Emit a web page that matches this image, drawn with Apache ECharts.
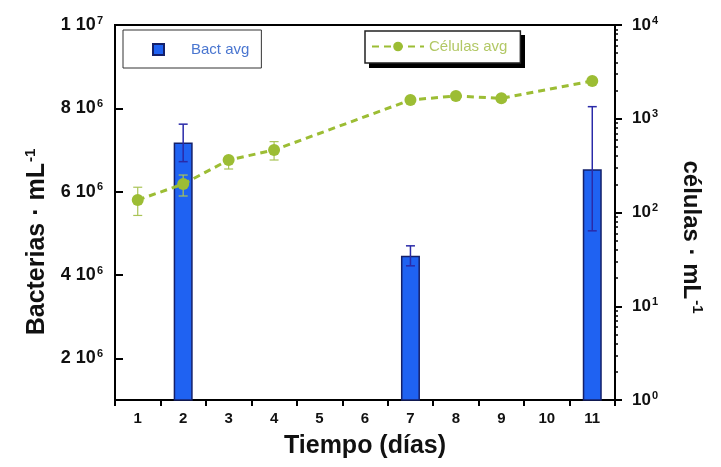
<!DOCTYPE html>
<html>
<head>
<meta charset="utf-8">
<script src="https://cdn.jsdelivr.net/npm/echarts@6/dist/echarts.min.js"></script>
<style>html,body{margin:0;padding:0;background:#fff}#c{width:721px;height:467px}</style>
</head>
<body>
<div id="c"></div>
<script>
const days = ['1','2','3','4','5','6','7','8','9','10','11'];
const bactAvg = [null, 7.18e6, null, null, null, null, 4.46e6, null, null, null, 6.54e6];
const bactLow = [null, 6.72e6, null, null, null, null, 4.22e6, null, null, null, 5.06e6];
const bactHigh = [null, 7.62e6, null, null, null, null, 4.70e6, null, null, null, 8.04e6];
const cellAvg = [136, 201, 363, 464, null, null, 1585, 1750, 1652, null, 2528];
const cellLow = [93, 150, 291, 363, null, null, null, null, null, null, null];
const cellHigh = [186, 251, 394, 570, null, null, null, null, null, null, null];
const leftTicks = [2e6, 4e6, 6e6, 8e6, 1e7];
const rightMinor = [2,3,4,5,6,7,8,9,20,30,40,50,60,70,80,90,200,300,400,500,600,700,800,900,2000,3000,4000,5000,6000,7000,8000,9000];

const FONT = '"Liberation Sans", Arial, sans-serif';
const BAR = '#1f62f2', BAR_BORDER = '#14206a', ERR_BLUE = '#2a2aa8';
const GREEN = '#9cbd34', GREEN_ERR = '#a9c456';

function errData(low, high) {
  const out = [];
  low.forEach((v, i) => { if (v != null && high[i] != null) out.push([i, v, high[i]]); });
  return out;
}
function errRender(color, cap, lw) {
  return function (params, api) {
    const x = api.value(0);
    const p1 = api.coord([x, api.value(1)]);
    const p2 = api.coord([x, api.value(2)]);
    const st = { stroke: color, lineWidth: lw };
    return {
      type: 'group',
      children: [
        { type: 'line', shape: { x1: p1[0], y1: p1[1], x2: p2[0], y2: p2[1] }, style: st },
        { type: 'line', shape: { x1: p1[0] - cap, y1: p1[1], x2: p1[0] + cap, y2: p1[1] }, style: st },
        { type: 'line', shape: { x1: p2[0] - cap, y1: p2[1], x2: p2[0] + cap, y2: p2[1] }, style: st }
      ]
    };
  };
}
const supRich = { sup: { fontSize: 11, fontWeight: 'bold', fontFamily: FONT, color: '#111', verticalAlign: 'top', padding: [0,0,9,1] } };

const chart = echarts.init(document.getElementById('c'), null, { renderer: 'canvas' });
chart.setOption({
  backgroundColor: '#fff',
  animation: false,
  grid: { left: 115, right: 106, top: 25, bottom: 67, show: true, borderColor: '#000', borderWidth: 2, backgroundColor: 'transparent' },
  legend: [
    {
      data: [{ name: 'Bact avg', icon: 'rect', textStyle: { color: '#4a76d0' } }],
      left: 123, top: 30, orient: 'horizontal', z: 6,
      padding: [12, 12, 11, 29], itemWidth: 11, itemHeight: 11,
      borderColor: '#333', borderWidth: 1, backgroundColor: '#fff',
      textStyle: { fontFamily: FONT, fontSize: 15, padding: [0, 0, 0, 22] }
    },
    {
      data: [{ name: 'Células avg', textStyle: { color: '#b2c865' } }],
      left: 365, top: 31, orient: 'horizontal', z: 6,
      padding: [8, 13, 9, 6], itemWidth: 52, itemHeight: 12,
      borderColor: '#222', borderWidth: 1.5, backgroundColor: '#fff',
      textStyle: { fontFamily: FONT, fontSize: 15 }
    }
  ],
  xAxis: {
    type: 'category', data: days, boundaryGap: true,
    name: 'Tiempo (días)', nameLocation: 'middle', nameGap: 34,
    nameTextStyle: { fontFamily: FONT, fontSize: 25, fontWeight: 'bold', color: '#111' },
    axisLine: { lineStyle: { color: '#000', width: 2 } },
    axisTick: { show: true, length: 6, lineStyle: { color: '#000', width: 2 } },
    axisLabel: { fontFamily: FONT, fontSize: 15, fontWeight: 'bold', color: '#111', margin: 11, interval: 0 },
    splitLine: { show: false }
  },
  yAxis: [
    {
      type: 'value', position: 'left', min: 1e6, max: 1e7,
      axisLine: { show: true, lineStyle: { color: '#000', width: 2 } },
      axisTick: { show: true, inside: true, length: 8, lineStyle: { color: '#000', width: 2 }, customValues: leftTicks },
      axisLabel: {
        customValues: leftTicks, margin: 12, fontFamily: FONT, fontSize: 18, fontWeight: 'bold', color: '#111',
        formatter: function (v) {
          const e = Math.floor(Math.log10(v) + 1e-9);
          const m = Math.round(v / Math.pow(10, e));
          return m + ' 10{sup|' + e + '}';
        },
        rich: supRich
      },
      splitLine: { show: false }
    },
    {
      type: 'log', logBase: 10, position: 'right', min: 1, max: 10000,
      axisLine: { show: true, lineStyle: { color: '#000', width: 2 } },
      axisTick: { show: true, inside: false, length: 7, lineStyle: { color: '#000', width: 2 } },
      axisLabel: {
        margin: 17, fontFamily: FONT, fontSize: 17, fontWeight: 'bold', color: '#111',
        formatter: function (v) { return '10{sup|' + Math.round(Math.log10(v)) + '}'; },
        rich: supRich
      },
      splitLine: { show: false }
    },
    {
      type: 'log', logBase: 10, position: 'right', min: 1, max: 10000,
      axisLine: { show: false },
      axisTick: { show: true, inside: false, length: 3, lineStyle: { color: '#000', width: 1.5 }, customValues: rightMinor },
      axisLabel: { show: false },
      splitLine: { show: false }
    }
  ],
  series: [
    {
      name: 'Bact avg', type: 'bar', xAxisIndex: 0, yAxisIndex: 0, data: bactAvg, barWidth: 19,
      itemStyle: { color: BAR, borderColor: BAR_BORDER, borderWidth: 1.5 }, z: 2
    },
    {
      name: 'bactErr', type: 'custom', xAxisIndex: 0, yAxisIndex: 0, data: errData(bactLow, bactHigh),
      renderItem: errRender(ERR_BLUE, 4.5, 1.5), z: 3, silent: true
    },
    {
      name: 'cellErr', type: 'custom', xAxisIndex: 0, yAxisIndex: 1, data: errData(cellLow, cellHigh),
      renderItem: errRender(GREEN_ERR, 4.5, 1.2), z: 4, silent: true
    },
    {
      name: 'Células avg', type: 'line', xAxisIndex: 0, yAxisIndex: 1, data: cellAvg, connectNulls: true,
      symbol: 'circle', symbolSize: 12, showSymbol: true,
      lineStyle: { color: GREEN, width: 3, type: [7, 5] },
      itemStyle: { color: GREEN, borderWidth: 0 }, z: 5
    }
  ],
  graphic: [
    {
      type: 'rect', z: 1, silent: true,
      shape: { x: 369, y: 35, width: 156, height: 33 },
      style: { fill: '#000' }
    },
    {
      type: 'text', x: 37, y: 242, rotation: Math.PI / 2,
      style: {
        text: 'Bacterias · mL{sup|-1}', align: 'center', verticalAlign: 'middle',
        font: 'bold 25px ' + FONT, fill: '#111',
        rich: { sup: { fontSize: 15, fontWeight: 'bold', fontFamily: FONT, fill: '#111', verticalAlign: 'top', padding: [0, 0, 12, 1] } }
      }
    },
    {
      type: 'text', x: 691, y: 237, rotation: -Math.PI / 2,
      style: {
        text: 'células · mL{sup|-1}', align: 'center', verticalAlign: 'middle',
        font: 'bold 24px ' + FONT, fill: '#111',
        rich: { sup: { fontSize: 15, fontWeight: 'bold', fontFamily: FONT, fill: '#111', verticalAlign: 'top', padding: [0, 0, 12, 1] } }
      }
    }
  ]
});
</script>
</body>
</html>
